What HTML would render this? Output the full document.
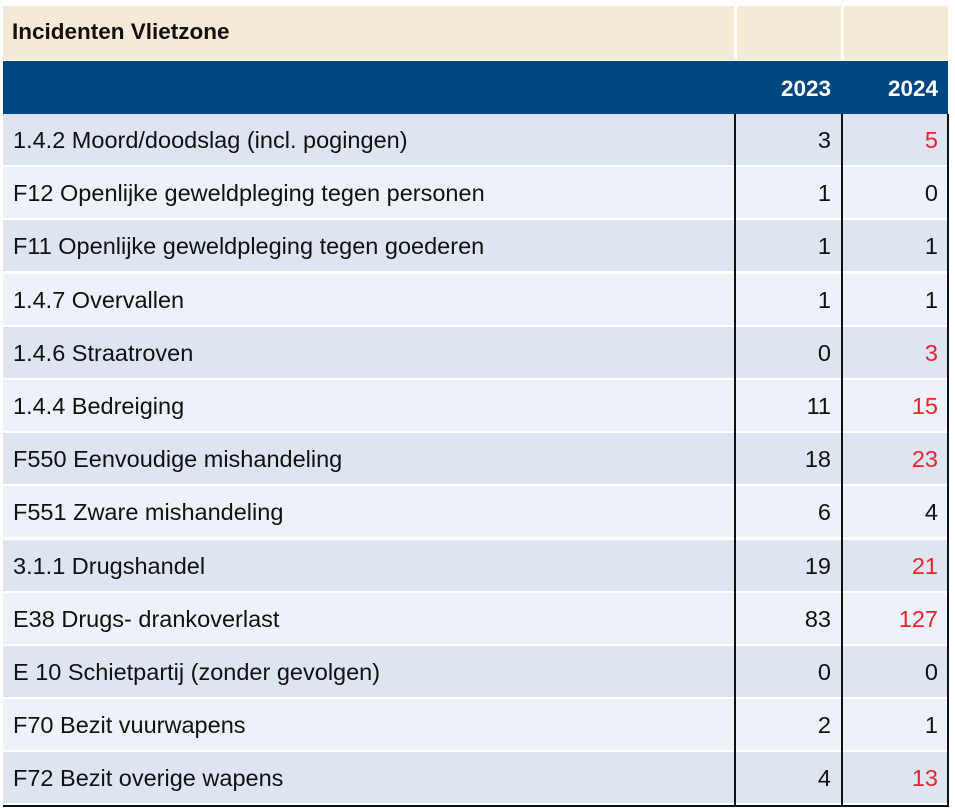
<!DOCTYPE html>
<html><head><style>
body{margin:0;width:955px;height:810px;background:#fff;position:relative;overflow:hidden;font-family:"Liberation Sans",Arial,sans-serif;}
.a{position:absolute;}
.t{font-size:23.5px;color:#111;line-height:1;}
</style></head><body>
<div class="a" style="left:3px;top:6px;width:731px;height:54px;background:#f5ead6"></div>
<div class="a" style="left:737px;top:6px;width:104px;height:54px;background:#f5ead6"></div>
<div class="a" style="left:844px;top:6px;width:104px;height:54px;background:#f5ead6"></div>
<div class="a t" style="left:12px;top:21px;font-weight:bold;font-size:22.5px">Incidenten Vlietzone</div>
<div class="a" style="left:3px;top:61px;width:945px;height:53px;background:#004680"></div>
<div class="a t" style="right:124px;top:78px;color:#fff;font-weight:bold;font-size:22.5px">2023</div>
<div class="a t" style="right:17px;top:78px;color:#fff;font-weight:bold;font-size:22.5px">2024</div>
<div id="rows"></div>
<script>
var d=[["1.4.2 Moord/doodslag (incl. pogingen)",3,5,1],["F12 Openlijke geweldpleging tegen personen",1,0,0],["F11 Openlijke geweldpleging tegen goederen",1,1,0],["1.4.7 Overvallen",1,1,0],["1.4.6 Straatroven",0,3,1],["1.4.4 Bedreiging",11,15,1],["F550 Eenvoudige mishandeling",18,23,1],["F551 Zware mishandeling",6,4,0],["3.1.1 Drugshandel",19,21,1],["E38 Drugs- drankoverlast",83,127,1],["E 10 Schietpartij (zonder gevolgen)",0,0,0],["F70 Bezit vuurwapens",2,1,0],["F72 Bezit overige wapens",4,13,1]];
var h="";
for(var i=0;i<d.length;i++){var y=114+i*53.2;var bg=i%2?"#edf2f8":"#dce5f0";
h+='<div class="a" style="left:3px;top:'+y+'px;width:945px;height:51px;background:'+bg+'"></div>';
h+='<div class="a t" style="left:13px;top:'+(y+15)+'px">'+d[i][0]+'</div>';
h+='<div class="a t" style="right:124px;top:'+(y+15)+'px">'+d[i][1]+'</div>';
h+='<div class="a t" style="right:17px;top:'+(y+15)+'px;color:'+(d[i][3]?'#f0202a':'#111')+'">'+d[i][2]+'</div>';}
h+='<div class="a" style="left:734px;top:114px;width:2px;height:693px;background:#111"></div>';
h+='<div class="a" style="left:841px;top:114px;width:2px;height:693px;background:#111"></div>';
h+='<div class="a" style="left:947px;top:114px;width:2px;height:693px;background:#111"></div>';
h+='<div class="a" style="left:3px;top:805px;width:946px;height:2px;background:#111"></div>';
document.getElementById("rows").innerHTML=h;
</script>
</body></html>
